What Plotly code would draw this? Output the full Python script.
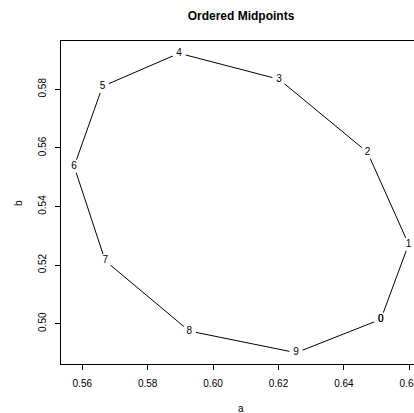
import plotly.graph_objects as go

labels = ["0", "1", "2", "3", "4", "5", "6", "7", "8", "9"]
a_vals = [0.6513, 0.6598, 0.6472, 0.6202, 0.5896, 0.5662, 0.5575, 0.5670, 0.5927, 0.6254]
b_vals = [0.5015, 0.5271, 0.5585, 0.5834, 0.5923, 0.5810, 0.5537, 0.5215, 0.4975, 0.4901]
x_ticks = [0.56, 0.58, 0.60, 0.62, 0.64, 0.66]
y_ticks = [0.50, 0.52, 0.54, 0.56, 0.58]

# closed loop back to the first point
ax = a_vals + a_vals[:1]
bx = b_vals + b_vals[:1]
lx = labels + labels[:1]

W, H = 414, 413
L, T = 61, 41
PB = 364  # plot bottom in figure pixels
PW, PH = W - L, PB - T

fig = go.Figure()
fig.add_trace(go.Scatter(x=ax, y=bx, mode="lines",
                         line=dict(color="black", width=1), hoverinfo="skip"))
fig.add_trace(go.Scatter(x=ax, y=bx, mode="markers+text", text=lx,
                         textposition="middle center",
                         marker=dict(color="white", size=14, line=dict(width=0)),
                         textfont=dict(size=10, color="black",
                                       family="Liberation Sans, Arial, sans-serif"),
                         hoverinfo="skip", cliponaxis=False))

fig.update_layout(
    width=W, height=H,
    margin=dict(l=L, r=0, t=T, b=H - PB, pad=0, autoexpand=False),
    paper_bgcolor="white", plot_bgcolor="white",
    showlegend=False,
    font=dict(family="Liberation Sans, Arial, sans-serif", size=10, color="black"),
    title=dict(text="<b>Ordered Midpoints</b>", xref="container", yref="container",
               x=241 / W, y=1 - 15.7 / H, xanchor="center",
               yanchor="middle", font=dict(size=12, color="black")),
    xaxis=dict(range=[0.55349, 0.66144], tickvals=x_ticks, tickformat=".2f",
               showgrid=False, zeroline=False, showline=True, linecolor="black",
               linewidth=1, mirror=True, ticks="outside", ticklen=5,
               tickcolor="black", tickfont=dict(size=10), automargin=False,
               ticklabeloverflow="allow", ticklabelstandoff=5),
    yaxis=dict(range=[0.48625, 0.59648], tickvals=y_ticks, tickformat=".2f",
               showgrid=False, zeroline=False, showline=True, linecolor="black",
               linewidth=1, mirror=False, ticks="outside", ticklen=5,
               tickcolor="black", tickangle=-90, tickfont=dict(size=10),
               automargin=False, ticklabeloverflow="allow", ticklabelstandoff=5),
    annotations=[
        dict(text="a", xref="paper", yref="paper", x=(240.7 - L) / PW,
             y=(PB - 408.5) / PH, xanchor="center", yanchor="middle",
             showarrow=False, font=dict(size=10)),
        dict(text="b", xref="paper", yref="paper", x=(18.3 - L) / PW,
             y=(PB - 202.7) / PH, xanchor="center", yanchor="middle",
             showarrow=False, textangle=-90, font=dict(size=10)),
    ],
)

fig.write_html(
    "out.html",
    config={"displayModeBar": False},
    post_script=(
        "document.documentElement.style.margin='0';"
        "document.body.style.margin='0';"
        "document.body.style.overflow='hidden';"
    ),
)
